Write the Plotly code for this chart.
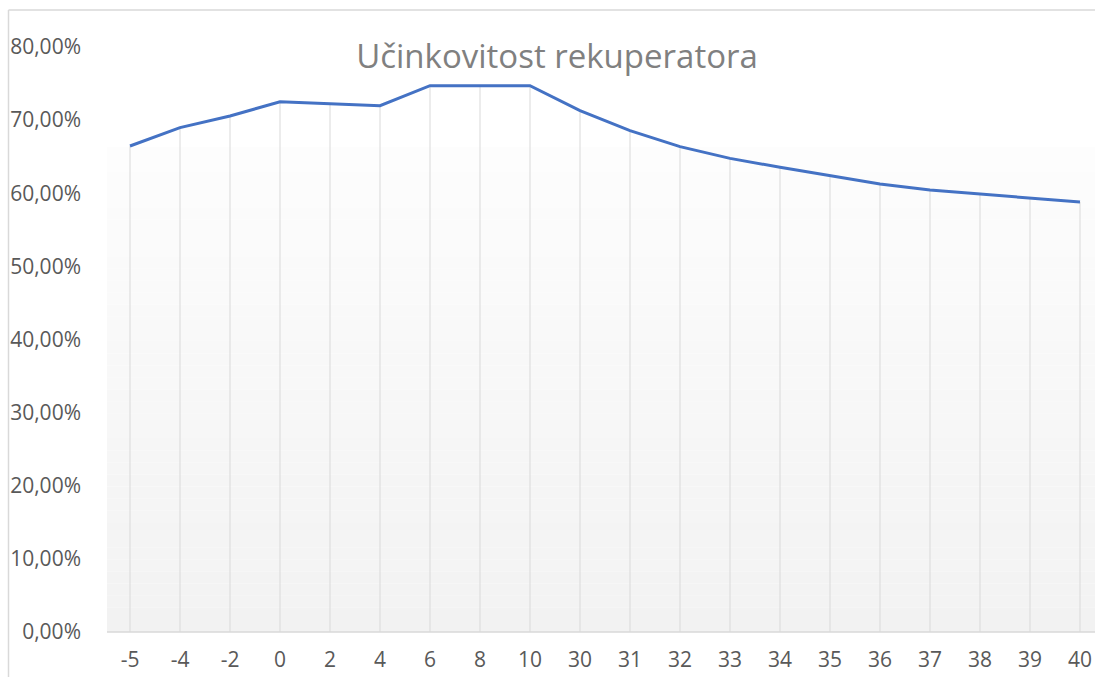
import plotly.graph_objects as go

categories = ["-5", "-4", "-2", "0", "2", "4", "6", "8", "10", "30",
              "31", "32", "33", "34", "35", "36", "37", "38", "39", "40"]
efficiency = [0.6646, 0.6897, 0.7056, 0.7252, 0.7225, 0.7197, 0.7471, 0.7471, 0.7471, 0.7129,
              0.6856, 0.6637, 0.6477, 0.6355, 0.6240, 0.6126, 0.6044, 0.5990, 0.5940, 0.5880]
y_tick_values = [0.0, 0.1, 0.2, 0.3, 0.4, 0.5, 0.6, 0.7, 0.8]
y_tick_labels = ["0,00%", "10,00%", "20,00%", "30,00%", "40,00%",
                 "50,00%", "60,00%", "70,00%", "80,00%"]
title_text = "Učinkovitost rekuperatora"

W, H = 1095, 677
ML, MT, MR = 105, 47, 0
PB = 632  # plot bottom in pixels
MB = H - PB
PW = W - ML - MR
PH = H - MT - MB

def px_to_paper_x(px):
    return (px - ML) / PW

def px_to_paper_y(py):
    return (PB - py) / PH

fig = go.Figure()

# drop lines from each point to the axis
dx, dy = [], []
for c, v in zip(categories, efficiency):
    dx += [c, c, None]
    dy += [0, v, None]
fig.add_trace(go.Scatter(x=dx, y=dy, mode="lines",
                         line=dict(color="#d9d9d9", width=1),
                         hoverinfo="skip", showlegend=False))

fig.add_trace(go.Scatter(x=categories, y=efficiency, mode="lines",
                         line=dict(color="#4472C4", width=3),
                         showlegend=False))

shapes = []
# gradient plot-area background (white -> light gray)
n = 40
top_px, bot_px = 147, 632
for i in range(n):
    y0 = top_px + (bot_px - top_px) * i / n
    y1 = top_px + (bot_px - top_px) * (i + 1) / n
    t = (i + 0.5) / n
    g = int(round(253 - (253 - 242) * t))
    col = f"rgb({g},{g},{g})"
    shapes.append(dict(type="rect", xref="paper", yref="paper",
                       x0=px_to_paper_x(107), x1=1.0,
                       y0=px_to_paper_y(y1), y1=px_to_paper_y(y0),
                       fillcolor=col, line=dict(width=0), layer="below"))
# chart border (left and top edges visible)
shapes.append(dict(type="line", xref="paper", yref="paper",
                   x0=px_to_paper_x(8.5), x1=px_to_paper_x(8.5),
                   y0=px_to_paper_y(677), y1=px_to_paper_y(10),
                   line=dict(color="#d9d9d9", width=1.5)))
shapes.append(dict(type="line", xref="paper", yref="paper",
                   x0=px_to_paper_x(8.5), x1=px_to_paper_x(1095),
                   y0=px_to_paper_y(10), y1=px_to_paper_y(10),
                   line=dict(color="#d9d9d9", width=1.5)))
# x axis line
shapes.append(dict(type="line", xref="paper", yref="paper",
                   x0=px_to_paper_x(107), x1=1.0, y0=0, y1=0,
                   line=dict(color="#d9d9d9", width=1.5)))

fig.update_layout(
    width=W, height=H,
    margin=dict(l=ML, r=MR, t=MT, b=MB, pad=0),
    paper_bgcolor="white", plot_bgcolor="rgba(0,0,0,0)",
    shapes=shapes,
    title=dict(text=title_text, x=557 / W, xref="container", xanchor="center",
               y=1 - 56 / H, yref="container", yanchor="middle",
               font=dict(family="Open Sans", size=33, color="#808080")),
    xaxis=dict(type="category", range=[-0.5, PW / 50 - 0.5], automargin=False,
               showgrid=False, showline=False, zeroline=False,
               ticks="", ticklabelstandoff=13,
               tickfont=dict(family="Open Sans", size=21, color="#595959")),
    yaxis=dict(range=[0, 0.8], tickvals=y_tick_values, ticktext=y_tick_labels,
               automargin=False,
               showgrid=False, showline=False, zeroline=False,
               ticks="", ticklabelstandoff=23,
               tickfont=dict(family="Open Sans", size=21, color="#595959")),
)

fig.write_html("out.html",
               config={"displayModeBar": False},
               post_script="document.body.style.margin='0';document.body.style.overflow='hidden';")
